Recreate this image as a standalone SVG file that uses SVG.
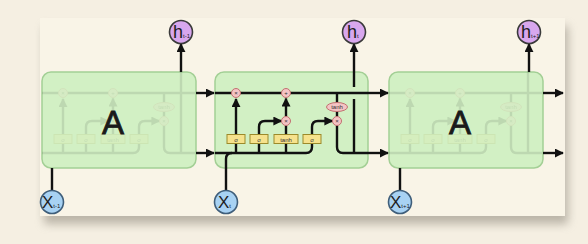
<svg xmlns="http://www.w3.org/2000/svg" width="588" height="244" viewBox="0 0 588 244">
<defs>
<style>
.cell{fill:#d2f0c4;stroke:#a3cf95;stroke-width:1.5}
.ln{fill:none;stroke:#111;stroke-width:2.4;stroke-linecap:butt}
.arr{marker-end:url(#ah)}
.h{fill:#d8a7ee;stroke:#3a3a3a;stroke-width:1.6}
.x{fill:#a8d2f3;stroke:#3f5e7a;stroke-width:1.6}
.lbl{font-family:"Liberation Sans",Arial,sans-serif;fill:#1e1e1e}
.gate{fill:#f6e28c;stroke:#9c8a2a;stroke-width:1}
.op{fill:#f4c4c4;stroke:#c27070;stroke-width:1}
.gt{font-family:"Liberation Sans",Arial,sans-serif;font-size:6px;fill:#333;text-anchor:middle}
.big{font-family:"Liberation Sans",Arial,sans-serif;font-size:33px;fill:#1a1a1a;stroke:#1a1a1a;stroke-width:0.8;text-anchor:middle}
</style>
<marker id="ah" viewBox="0 0 10 10" refX="9" refY="5" markerWidth="9" markerHeight="9" markerUnits="userSpaceOnUse" orient="auto">
<path d="M0 0 L10 5 L0 10 z" fill="#111"/>
</marker>
<filter id="sh" x="-10%" y="-20%" width="120%" height="150%">
<feGaussianBlur stdDeviation="5"/>
</filter>
<g id="internals">
<path class="ln" d="M215 93 H368"/>
<path class="ln arr" d="M236 153 V99"/>
<path class="ln" d="M215 153 H306 Q312 153 312 147 V143.5"/>
<path class="ln" d="M259 153 V143.5 M286 153 V143.5"/>
<path class="ln arr" d="M259 134.5 V127 Q259 121 265 121 H281.5"/>
<path class="ln" d="M286 134.5 V125.5"/>
<path class="ln arr" d="M286 116.5 V98.5"/>
<path class="ln arr" d="M312 134.5 V127 Q312 121 318 121 H332.5"/>
<path class="ln" d="M337 93 V102.5 M337 111.5 V116.5 M337 125.5 V147 Q337 153 343 153 H368"/>
<rect class="gate" x="227" y="134.5" width="18" height="9"/>
<rect class="gate" x="250" y="134.5" width="18" height="9"/>
<rect class="gate" x="274" y="134.5" width="24" height="9"/>
<rect class="gate" x="303" y="134.5" width="18" height="9"/>
<text class="gt" x="236" y="141.5">σ</text>
<text class="gt" x="259" y="141.5">σ</text>
<text class="gt" x="286" y="141.5">tanh</text>
<text class="gt" x="312" y="141.5">σ</text>
<circle class="op" cx="236" cy="93" r="4.5"/>
<circle class="op" cx="286" cy="93" r="4.5"/>
<circle class="op" cx="286" cy="121" r="4.5"/>
<circle class="op" cx="337" cy="121" r="4.5"/>
<ellipse class="op" cx="337" cy="107" rx="10.5" ry="4.5"/>
<text class="gt" x="236" y="95">×</text>
<text class="gt" x="286" y="95">+</text>
<text class="gt" x="286" y="123">×</text>
<text class="gt" x="337" y="123">×</text>
<text class="gt" x="337" y="109">tanh</text>
</g>
</defs>
<rect width="588" height="244" fill="#f5efe2"/>
<rect x="44" y="26" width="524" height="198" fill="#8a8478" opacity="0.55" filter="url(#sh)"/>
<rect x="40" y="18" width="525" height="198" fill="#f9f4e7"/>

<g id="cell-prev">
<rect class="cell" x="42" y="72" width="154" height="96" rx="9"/>
<g opacity="0.1" transform="translate(-173 0)">
<use href="#internals"/>
<path class="ln" d="M354 153 V72"/>
</g>
<text class="big" x="113" y="134">A</text>
</g>

<g id="cell-curr">
<rect class="cell" x="215" y="72" width="153" height="96" rx="9"/>
<use href="#internals"/>
</g>

<g id="cell-next">
<rect class="cell" x="389" y="72" width="154" height="96" rx="9"/>
<g opacity="0.1" transform="translate(174 0)">
<use href="#internals"/>
<path class="ln" d="M354 153 V72"/>
</g>
<text class="big" x="460" y="134">A</text>
</g>

<g id="connectors">
<path class="ln arr" d="M196 93 H214"/>
<path class="ln arr" d="M196 153 H214"/>
<path class="ln arr" d="M368 93 H388"/>
<path class="ln arr" d="M368 153 H388"/>
<path class="ln arr" d="M543 93 H563"/>
<path class="ln arr" d="M543 153 H563"/>
<path class="ln arr" d="M181 72 V44"/>
<path class="ln" d="M354 153 V99"/>
<path class="ln arr" d="M354 87 V44"/>
<path class="ln arr" d="M529 72 V44"/>
<path class="ln" d="M52 190 V168"/>
<path class="ln" d="M226 190 V159 Q226 153 232 153"/>
<path class="ln" d="M400 190 V168"/>
</g>

<g id="h-prev"><circle class="h" cx="181" cy="32" r="11.5"/><text class="lbl" x="173" y="38" font-size="18">h<tspan font-size="6">t-1</tspan></text></g>
<g id="h-curr"><circle class="h" cx="354" cy="32" r="11.5"/><text class="lbl" x="347" y="38" font-size="18">h<tspan font-size="6">t</tspan></text></g>
<g id="h-next"><circle class="h" cx="529" cy="32" r="11.5"/><text class="lbl" x="521" y="38" font-size="18">h<tspan font-size="6">t+1</tspan></text></g>

<g id="x-prev"><circle class="x" cx="52" cy="202" r="11.5"/><text class="lbl" x="42" y="208" font-size="17">X<tspan font-size="6">t-1</tspan></text></g>
<g id="x-curr"><circle class="x" cx="226" cy="202" r="11.5"/><text class="lbl" x="218" y="208" font-size="17">X<tspan font-size="6">t</tspan></text></g>
<g id="x-next"><circle class="x" cx="400" cy="202" r="11.5"/><text class="lbl" x="390" y="208" font-size="17">X<tspan font-size="6">t+1</tspan></text></g>
</svg>
